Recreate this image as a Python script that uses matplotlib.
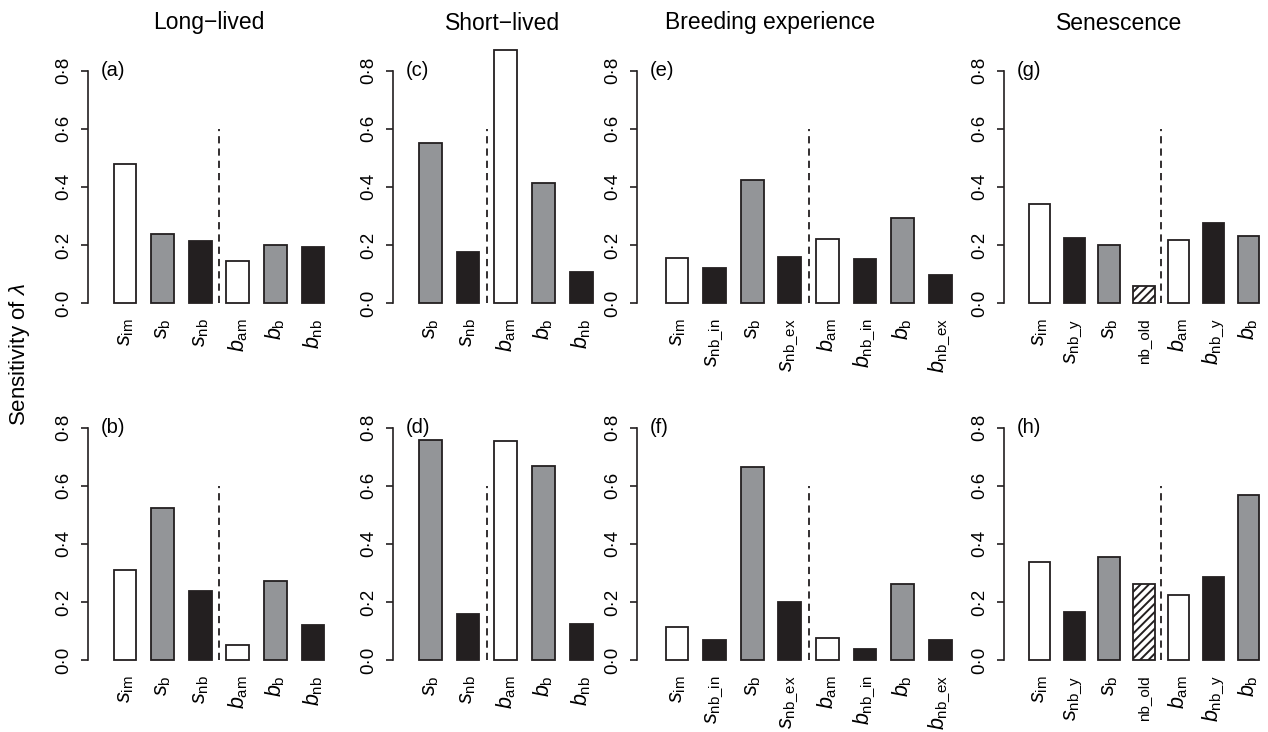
import matplotlib
matplotlib.use('Agg')
import matplotlib.pyplot as plt

plt.rcParams['font.family'] = ['Liberation Sans', 'DejaVu Sans']
plt.rcParams['mathtext.fontset'] = 'custom'
plt.rcParams['mathtext.rm'] = 'Liberation Sans'
plt.rcParams['mathtext.it'] = 'Liberation Sans:italic'
plt.rcParams['hatch.linewidth'] = 1.4

# --- data ---
titles = ['Long\u2212lived', 'Short\u2212lived', 'Breeding experience', 'Senescence']
panel_tags = [['(a)', '(b)'], ['(c)', '(d)'], ['(e)', '(f)'], ['(g)', '(h)']]

long_params = ['s_im', 's_b', 's_nb', 'b_am', 'b_b', 'b_nb']
long_fill = ['w', 'g', 'k', 'w', 'g', 'k']
long_top = [0.478, 0.238, 0.215, 0.144, 0.199, 0.193]
long_bot = [0.310, 0.523, 0.239, 0.052, 0.273, 0.121]

short_params = ['s_b', 's_nb', 'b_am', 'b_b', 'b_nb']
short_fill = ['g', 'k', 'w', 'g', 'k']
short_top = [0.551, 0.174, 0.872, 0.414, 0.105]
short_bot = [0.756, 0.158, 0.753, 0.667, 0.124]

exp_params = ['s_im', 's_nb_in', 's_b', 's_nb_ex', 'b_am', 'b_nb_in', 'b_b', 'b_nb_ex']
exp_fill = ['w', 'k', 'g', 'k', 'w', 'k', 'g', 'k']
exp_top = [0.154, 0.122, 0.424, 0.160, 0.222, 0.151, 0.292, 0.096]
exp_bot = [0.115, 0.068, 0.664, 0.199, 0.077, 0.039, 0.263, 0.068]

sen_params = ['s_im', 's_nb_y', 's_b', 'nb_old', 'b_am', 'b_nb_y', 'b_b']
sen_fill = ['w', 'k', 'g', 'h', 'w', 'k', 'g']
sen_top = [0.341, 0.225, 0.201, 0.059, 0.218, 0.277, 0.231]
sen_bot = [0.339, 0.164, 0.355, 0.263, 0.224, 0.287, 0.567]

# number of survival params before the dashed divider
n_surv = [3, 2, 4, 4]

columns = [
    (long_params, long_fill, long_top, long_bot),
    (short_params, short_fill, short_top, short_bot),
    (exp_params, exp_fill, exp_top, exp_bot),
    (sen_params, sen_fill, sen_top, sen_bot),
]

# layout in pixels: axis x, px per bar, offset of first bar centre
col_px = [(88, 37.6, 37.0), (393, 37.7, 37.3), (637, 37.6, 40.0), (1004, 34.8, 35.5)]
row_zero = [303, 660]
px_per_unit = 290.5

FW, FH = 1268, 732
FILL = {'w': 'white', 'g': '#939598', 'k': '#231f20', 'h': 'white'}
EDGE = '#231f20'


def tick_label(p):
    if p == 'nb_old':
        return p
    base, sub = p.split('_', 1)
    sub = sub.replace('_', r'\_')
    return r'$%s_{\mathrm{%s}}$' % (base, sub)


fig = plt.figure(figsize=(FW / 100, FH / 100), dpi=100)

for c, (params, fill, top, bot) in enumerate(columns):
    left, u, off = col_px[c]
    n = len(params)
    x0 = -off / u
    x1 = n - 0.4
    width_px = (x1 - x0) * u
    for r, vals in enumerate([top, bot]):
        ylo, yhi = -0.02, 0.9
        bottom_px = row_zero[r] - ylo * px_per_unit
        top_px = row_zero[r] - yhi * px_per_unit
        ax = fig.add_axes([left / FW, 1 - bottom_px / FH,
                           width_px / FW, (bottom_px - top_px) / FH])
        xs = list(range(n))
        for i in xs:
            ax.bar(i, vals[i], width=0.61, color=FILL[fill[i]],
                   edgecolor=EDGE, linewidth=1.3,
                   hatch='////' if fill[i] == 'h' else None)
        ax.plot([n_surv[c] - 0.5] * 2, [0, 0.6], color=EDGE, lw=1.3,
                linestyle=(0, (4.0, 2.8)))
        ax.set_xlim(x0, x1)
        ax.set_ylim(ylo, yhi)
        for s in ['top', 'right', 'bottom']:
            ax.spines[s].set_visible(False)
        ax.spines['left'].set_bounds(0, 0.8)
        ax.spines['left'].set_linewidth(1.2)
        ax.spines['left'].set_color(EDGE)
        ax.set_yticks([0, 0.2, 0.4, 0.6, 0.8])
        ax.set_yticklabels(['0\u00b70', '0\u00b72', '0\u00b74', '0\u00b76', '0\u00b78'],
                           rotation=90, va='center', fontsize=13.5)
        ax.tick_params(axis='y', length=5, width=1.2, color=EDGE, pad=6)
        ax.set_xticks(xs)
        labs = ax.set_xticklabels([tick_label(p) for p in params], rotation=90,
                                  fontsize=15.5)
        for p, lab in zip(params, labs):
            if p == 'nb_old':
                lab.set_fontsize(11)
        ax.tick_params(axis='x', length=0, pad=7)
        ax.annotate(panel_tags[c][r], xy=(0, 0.8),
                    xycoords=('axes fraction', 'data'),
                    xytext=(9.5, 0), textcoords='offset points',
                    ha='left', va='center', fontsize=14.5)
        ax.patch.set_visible(False)

title_x = [209, 503, 770, 1119]
for t, tx in zip(titles, title_x):
    fig.text(tx / FW, 1 - 23 / FH, t, ha='center', va='center', fontsize=16.5)

fig.text(20 / FW, 1 - 355 / FH, r'Sensitivity of $\lambda$', rotation=90,
         ha='center', va='center', fontsize=16)

fig.savefig('out.png', dpi=100)
